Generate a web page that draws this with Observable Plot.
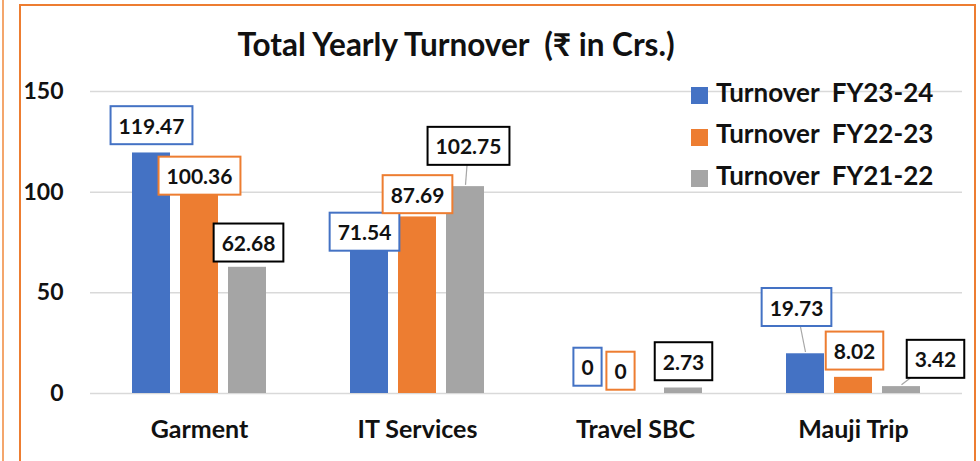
<!DOCTYPE html>
<html>
<head>
<meta charset="utf-8">
<script src="https://cdn.jsdelivr.net/npm/d3@7"></script>
<script src="https://cdn.jsdelivr.net/npm/@observablehq/plot@0.6"></script>
<style>
  html, body { margin: 0; padding: 0; background: #fff; }
  #wrap { position: relative; width: 980px; height: 461px; overflow: hidden; font-family: Lato, "DejaVu Sans", sans-serif; color: #111; }
  #chart { position: absolute; left: 0; top: 0; }
  .frame { position: absolute; left: 19px; top: 4px; width: 957px; height: 480px; border: 2px solid #ED7D31; box-sizing: border-box; }
  .frame2 { position: absolute; left: 2px; top: 0; width: 2px; height: 461px; background: #F4A66C; }
  .title { position: absolute; left: 0; width: 912px; top: 29px; text-align: center; font-weight: bold; font-size: 31.5px; line-height: 31.5px; white-space: pre; }
  .leg-sw { position: absolute; left: 691px; width: 17px; height: 17px; }
  .leg-tx { position: absolute; left: 716px; font-weight: bold; font-size: 26px; line-height: 26px; white-space: pre; }
</style>
</head>
<body>
<div id="wrap">
  <div class="frame2"></div>
  <div class="frame"></div>
  <div id="chart"></div>
  <div class="title">Total Yearly Turnover  (₹ in Crs.)</div>
  <div id="legend"></div>
</div>
<script>
// ---- data ----
const categories = ["Garment", "IT Services", "Travel SBC", "Mauji Trip"];
const seriesNames = ["Turnover  FY23-24", "Turnover  FY22-23", "Turnover  FY21-22"];
const fy2324 = [119.47, 71.54, 0, 19.73];
const fy2223 = [100.36, 87.69, 0, 8.02];
const fy2122 = [62.68, 102.75, 2.73, 3.42];
const yTicks = [0, 50, 100, 150];

// ---- styles / layout ----
const seriesColors = ["#4472C4", "#ED7D31", "#A5A5A5"];
const labelBorders = ["#4472C4", "#ED7D31", "#000000"];
// manual label nudges in px (like dragged data labels), keyed category|series index
const labelNudge = {
  "Garment|0": [0, -3], "Garment|1": [0, 9], "Garment|2": [1, 0],
  "IT Services|0": [-5, 7], "IT Services|1": [0, 2], "IT Services|2": [3, -16],
  "Travel SBC|0": [0, -2], "Travel SBC|1": [-15, 2], "Travel SBC|2": [0, -2],
  "Mauji Trip|0": [-9, -22], "Mauji Trip|1": [1, -2], "Mauji Trip|2": [34, -3]
};

const seriesArrays = [fy2324, fy2223, fy2122];
const rows = categories.flatMap((c, i) =>
  seriesArrays.map((arr, s) => ({category: c, series: seriesNames[s], sIndex: s, value: arr[i]}))
);

const chart = Plot.plot({
  width: 980,
  height: 461,
  marginLeft: 90,
  marginRight: 18,
  marginTop: 91,
  marginBottom: 68,
  style: {fontFamily: "Lato, 'DejaVu Sans', sans-serif", background: "transparent", color: "#111"},
  fx: {domain: categories, padding: 0, label: null},
  x: {domain: seriesNames, paddingInner: 0.216, paddingOuter: 0.856, axis: null},
  y: {domain: [0, 150]},
  color: {domain: seriesNames, range: seriesColors},
  marks: [
    Plot.ruleY(yTicks, {stroke: "#D9D9D9", strokeWidth: 1.5}),
    Plot.barY(rows, {fx: "category", x: "series", y: "value", fill: "series"}),
    Plot.text(rows, {
      fx: "category", x: "series", y: "value",
      text: d => String(d.value),
      dy: -23, fontSize: 21, fontWeight: "bold", fill: "#111",
      title: d => "LBL|" + d.category + "|" + d.sIndex
    }),
    Plot.axisY(yTicks, {tickSize: 0, tickPadding: 27, fontSize: 23, fontWeight: "bold", label: null}),
    Plot.axisFx({anchor: "bottom", tickSize: 0, tickPadding: 27, fontSize: 25, fontWeight: "bold", label: null})
  ]
});
document.getElementById("chart").appendChild(chart);

// ---- label boxes + leader lines ----
const NS = "http://www.w3.org/2000/svg";
Array.from(chart.querySelectorAll("text")).forEach(t => {
  const tt = t.querySelector("title");
  if (!tt || !tt.textContent.startsWith("LBL|")) return;
  const parts = tt.textContent.split("|");
  const key = parts[1] + "|" + parts[2];
  const sIdx = +parts[2];
  tt.remove();
  const g = document.createElementNS(NS, "g");
  t.parentNode.insertBefore(g, t);
  g.appendChild(t);
  const bb = g.getBBox();
  const cx = bb.x + bb.width / 2, cy = bb.y + bb.height / 2;
  const w = bb.width + 16, h = 38;
  const rect = document.createElementNS(NS, "rect");
  rect.setAttribute("x", cx - w / 2);
  rect.setAttribute("y", cy - h / 2);
  rect.setAttribute("width", w);
  rect.setAttribute("height", h);
  rect.setAttribute("fill", "#fff");
  rect.setAttribute("stroke", labelBorders[sIdx] || "#000");
  rect.setAttribute("stroke-width", 2);
  g.insertBefore(rect, t);
  const [dx, dy] = labelNudge[key] || [0, 0];
  g.setAttribute("transform", `translate(${dx},${dy})`);
  // leader line from bar top to box edge when label is moved away
  const ax = cx, ay = cy + 23;
  const bcx = cx + dx, bcy = cy + dy;
  const x1 = bcx - w / 2, x2 = bcx + w / 2, y1 = bcy - h / 2, y2 = bcy + h / 2;
  const vx = bcx - ax, vy = bcy - ay;
  let tEnter = 0;
  if (vx !== 0) { const tx = vx > 0 ? (x1 - ax) / vx : (x2 - ax) / vx; tEnter = Math.max(tEnter, tx); }
  if (vy !== 0) { const ty = vy > 0 ? (y1 - ay) / vy : (y2 - ay) / vy; tEnter = Math.max(tEnter, ty); }
  const ex = ax + vx * tEnter, ey = ay + vy * tEnter;
  if (Math.hypot(ex - ax, ey - ay) > 8) {
    const line = document.createElementNS(NS, "line");
    line.setAttribute("x1", ax); line.setAttribute("y1", ay);
    line.setAttribute("x2", ex); line.setAttribute("y2", ey);
    line.setAttribute("stroke", "#A6A6A6");
    line.setAttribute("stroke-width", 1.2);
    g.parentNode.insertBefore(line, g);
  }
});

// ---- legend ----
const legend = document.getElementById("legend");
seriesNames.forEach((name, i) => {
  const sw = document.createElement("div");
  sw.className = "leg-sw";
  sw.style.top = (87 + i * 41.5) + "px";
  sw.style.background = seriesColors[i];
  legend.appendChild(sw);
  const tx = document.createElement("div");
  tx.className = "leg-tx";
  tx.style.top = (78.6 + i * 41.5) + "px";
  tx.textContent = name;
  legend.appendChild(tx);
});
</script>
</body>
</html>
